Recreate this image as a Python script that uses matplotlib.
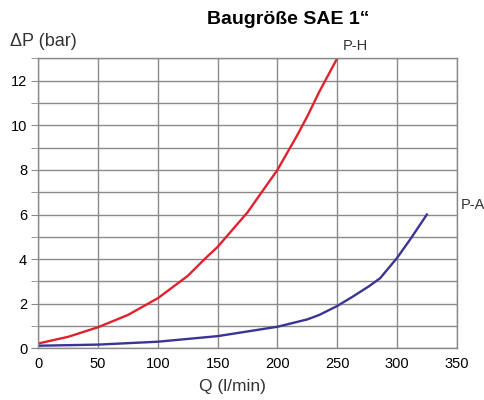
import numpy as np
import matplotlib
matplotlib.use("Agg")
import matplotlib.pyplot as plt

plt.rcParams['font.family'] = ['Liberation Sans', 'DejaVu Sans']

# P-H curve (red)
q_ph = [0, 25, 50, 75, 100, 125, 140, 150, 175, 200, 216, 225, 235, 250]
dp_ph = [0.22, 0.52, 0.95, 1.5, 2.25, 3.25, 4.05, 4.55, 6.1, 8.0, 9.5, 10.4, 11.5, 13.0]

# P-A curve (blue)
q_pa = [0, 50, 100, 150, 200, 225, 235, 250, 263, 277, 286, 300, 311, 325]
dp_pa = [0.12, 0.17, 0.3, 0.55, 0.97, 1.3, 1.5, 1.9, 2.32, 2.8, 3.15, 4.05, 4.88, 6.0]

xticks = [0, 50, 100, 150, 200, 250, 300, 350]
yticks = [0, 2, 4, 6, 8, 10, 12]

fig = plt.figure(figsize=(4.85, 4.0), dpi=100)
ax = fig.add_axes([0.079, 0.129, 0.8627, 0.725])

ax.plot(q_ph, dp_ph, color="#e0212e", lw=1.7, solid_joinstyle='round')
ax.plot(q_pa, dp_pa, color="#3b3591", lw=1.7, solid_joinstyle='round')

ax.set_xlim(0, 350)
ax.set_ylim(0, 13)
ax.set_xticks(xticks)
ax.set_yticks(yticks)
ax.set_yticks(np.arange(0, 14, 1), minor=True)
ax.grid(True, which='both', color="#8a8a8a", lw=1.0)
ax.set_axisbelow(True)
for s in ax.spines.values():
    s.set_color("#8a8a8a")
    s.set_linewidth(1.0)
ax.tick_params(axis='y', which='both', length=5, color="#8a8a8a", labelsize=10.5, pad=3)
ax.tick_params(axis='x', length=0, labelsize=10.5, pad=6)

fig.text(0.595, 0.95, "Baugröße SAE 1“", ha='center', va='center',
         fontsize=14, fontweight='bold')
fig.text(0.02, 0.895, "ΔP (bar)", ha='left', va='center', fontsize=13, color="#333333")
fig.text(0.48, 0.035, "Q (l/min)", ha='center', va='center', fontsize=12.5, color="#333333")
ax.text(265, 13.55, "P-H", ha='center', va='center', fontsize=10.5, color="#333333")
ax.text(353, 6.45, "P-A", ha='left', va='center', fontsize=10.5, color="#333333")

fig.savefig("out.png", dpi=100)
